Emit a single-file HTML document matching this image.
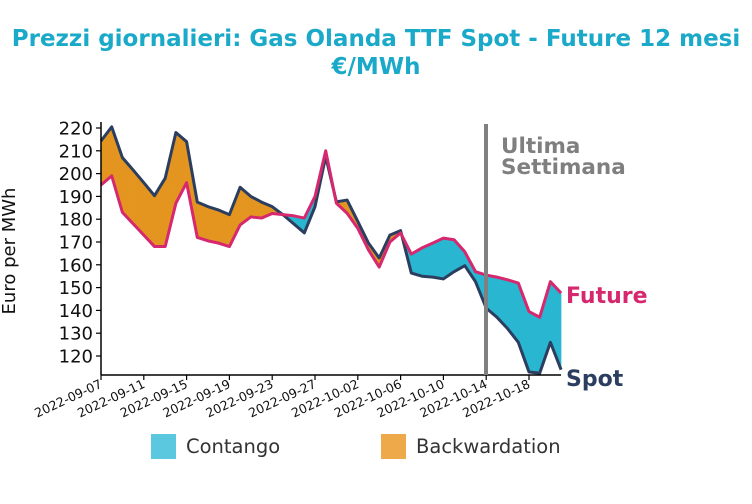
<!DOCTYPE html>
<html><head><meta charset="utf-8"><style>
body{margin:0;background:#fff;}
svg{display:block;font-family:"DejaVu Sans","Liberation Sans",sans-serif;}
</style></head><body>
<svg id="chart" width="752" height="504" viewBox="0 0 752 504" xmlns="http://www.w3.org/2000/svg">
<text x="376" y="46" text-anchor="middle" font-size="23" font-weight="bold" fill="#1aa9c8">Prezzi giornalieri: Gas Olanda TTF Spot - Future 12 mesi</text>
<text x="376" y="74" text-anchor="middle" font-size="23" font-weight="bold" fill="#1aa9c8">€/MWh</text>
<text transform="translate(15,251) rotate(-90)" text-anchor="middle" font-size="18" fill="#111">Euro per MWh</text>
<g id="fills"></g>
<g id="lines"></g>
<g id="axes"></g>
<line x1="486" y1="124" x2="486" y2="375" stroke="#808080" stroke-width="4"/>
<text x="501" y="153" font-size="21.5" font-weight="bold" fill="#7f7f7f">Ultima</text>
<text x="501" y="174" font-size="21.5" font-weight="bold" fill="#7f7f7f">Settimana</text>
<text x="566" y="303" font-size="22" font-weight="bold" fill="#d6286e">Future</text>
<text x="566" y="386" font-size="22" font-weight="bold" fill="#2c3e60">Spot</text>
<g>
<rect x="151" y="434" width="25" height="25" fill="#5bc8e0"/>
<text x="186" y="453" font-size="19.5" fill="#333">Contango</text>
<rect x="381" y="434" width="25" height="25" fill="#eeaa4a"/>
<text x="416" y="453" font-size="19.5" fill="#333">Backwardation</text>
</g>
</svg>
<script>
const spot=[214.3,220.5,207,201.6,196,190.3,198,218,214,187.5,185.5,184,182,194,190,187.5,185.5,182,178,174,185.5,207.5,187.6,188.4,179,169.5,163,173,175,156.4,155,154.6,153.8,157,159.6,152.6,141,137,132,126,113,112.5,126,114];
const future=[195,199,183,178,173,168,168,187,196,172,170.5,169.5,168,177.5,181,180.5,182.5,182,181.5,180.5,190,210,187,182.6,176,166.5,159,170,174,164.7,167.4,169.5,171.7,171,165.7,157,155.5,154.6,153.4,152,139.5,137,152.6,147.6];
const tickLabels=["2022-09-07","2022-09-11","2022-09-15","2022-09-19","2022-09-23","2022-09-27","2022-10-02","2022-10-06","2022-10-10","2022-10-14","2022-10-18"];
const yTicks=[120,130,140,150,160,170,180,190,200,210,220];
const NS="http://www.w3.org/2000/svg";
const X0=101,DX=10.7;
function x(i){return X0+i*DX;}
function y(v){return 356-(v-120)*2.28;}
function mk(t,a,p){const e=document.createElementNS(NS,t);for(const k in a)e.setAttribute(k,a[k]);p.appendChild(e);return e;}
const fills=document.getElementById('fills'),lines=document.getElementById('lines'),axes=document.getElementById('axes');
for(let i=0;i<spot.length-1;i++){
  const d0=spot[i]-future[i],d1=spot[i+1]-future[i+1];
  const segs=[];
  if(d0*d1<0){const t=d0/(d0-d1);const xm=i+t;const vm=spot[i]+(spot[i+1]-spot[i])*t;
    segs.push([[i,spot[i],future[i]],[xm,vm,vm],d0]);segs.push([[xm,vm,vm],[i+1,spot[i+1],future[i+1]],d1]);}
  else segs.push([[i,spot[i],future[i]],[i+1,spot[i+1],future[i+1]],d0+d1]);
  segs.forEach(s=>{const a=s[0],b=s[1];
    const p=mk('polygon',{points:`${x(a[0])},${y(a[1])} ${x(b[0])},${y(b[1])} ${x(b[0])},${y(b[2])} ${x(a[0])},${y(a[2])}`,fill:s[2]>0?'#e4951f':'#29b6d0',stroke:s[2]>0?'#e4951f':'#29b6d0','stroke-width':0.5},fills);
    
    });
}
const sl=mk('polyline',{points:spot.map((v,i)=>x(i)+','+y(v)).join(' '),fill:'none',stroke:'#2c3e60','stroke-width':3,'stroke-linejoin':'round'},lines);


const fl=mk('polyline',{points:future.map((v,i)=>x(i)+','+y(v)).join(' '),fill:'none',stroke:'#d6286e','stroke-width':3,'stroke-linejoin':'round'},lines);


const xa=mk('line',{x1:X0,y1:375,x2:561,y2:375,stroke:'#000','stroke-width':1.5},axes);


const ya=mk('line',{x1:X0,y1:122,x2:X0,y2:375,stroke:'#000','stroke-width':1.5},axes);


yTicks.forEach(v=>{
  mk('line',{x1:X0-5,y1:y(v),x2:X0,y2:y(v),stroke:'#000','stroke-width':1.2},axes);
  const t=mk('text',{x:X0-8,y:y(v)+6.5,'text-anchor':'end','font-size':18,fill:'#111'},axes);
  t.textContent=v;
  
  
});
tickLabels.forEach((l,k)=>{
  const xx=x(k*4);
  mk('line',{x1:xx,y1:375,x2:xx,y2:380,stroke:'#000','stroke-width':1.2},axes);
  const t=mk('text',{transform:`translate(${xx+2},${387}) rotate(-25)`,'text-anchor':'end','font-size':12.5,fill:'#111'},axes);
  t.textContent=l;
  
  
});
</script>
</body></html>
